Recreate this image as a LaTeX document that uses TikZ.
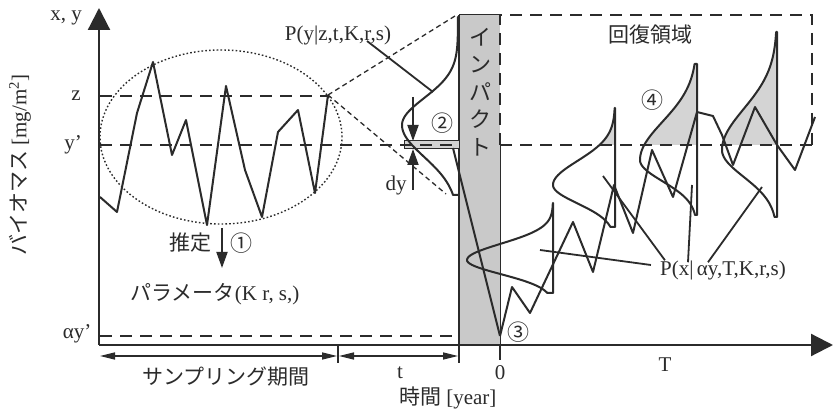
\documentclass[tikz,border=0pt]{standalone}
\usepackage{fontspec}
\setmainfont{Liberation Serif}
\newfontfamily\jpfont{Noto Sans CJK JP}
\usetikzlibrary{arrows.meta,positioning}
\definecolor{inkgray}{HTML}{2B2B2B}
\definecolor{barfill}{HTML}{C9C9C9}
\definecolor{tailfill}{HTML}{D4D4D4}
\tikzset{
  curveline/.style={draw=inkgray,line width=2pt,line join=round},
  levelline/.style={draw=inkgray,line width=1.8pt,dash pattern=on 12pt off 8pt},
  zoomline/.style={draw=inkgray,line width=1.3pt,dash pattern=on 5pt off 3.5pt},
  rangeline/.style={draw=inkgray,line width=1.4pt,dash pattern=on 1.6pt off 2.2pt},
  axisline/.style={draw=inkgray,line width=2.2pt,-{Triangle[length=22pt,width=22pt]}},
  spanarrow/.style={draw=inkgray,line width=1.4pt,
    {Triangle[length=15pt,width=7pt]}-{Triangle[length=15pt,width=7pt]}},
  markarrow/.style={draw=inkgray,line width=1.8pt,-{Triangle[length=16pt,width=11pt]}},
  leaderline/.style={draw=inkgray,line width=1.8pt},
  latinlabel/.style={text=inkgray,font=\fontsize{21}{25}\selectfont,inner sep=0pt},
  jplabel/.style={text=inkgray,font=\jpfont\fontsize{21}{25}\selectfont,inner sep=0pt},
  circlabel/.style={text=inkgray,font=\jpfont\fontsize{22}{22}\selectfont,inner sep=0pt}
}
% one-sided bell: base x, top y, peak y, bottom y, width, upper sigma, lower sigma
\newcommand{\bellpath}[7]{(#1,#2) -- plot[domain=#2:#3,samples=40,variable=\t]
  ({#1-#5*exp(0-((\t-#3)/#6)^2)},\t) -- plot[domain=#3:#4,samples=40,variable=\t]
  ({#1-#5*exp(0-((\t-#3)/#7)^2)},\t) -- (#1,#4)}

\begin{document}
\begin{tikzpicture}[x=1pt,y=-1pt]
  \useasboundingbox (0,0) rectangle (833,411);
  \fill[white] (0,0) rectangle (833,411);

  % impact bar
  \fill[barfill] (459,15) rectangle (500,345);
  \draw[inkgray,line width=1pt] (459,15) -- (500,15);
  \draw[inkgray,line width=1pt] (500,145) -- (500,345);
  \draw[inkgray,line width=2pt] (459,15) -- (459,345);

  % tails above y'
  \begin{scope}
    \clip (0,0) rectangle (833,145);
    \fill[tailfill] \bellpath{615}{108}{185}{227}{62}{34}{26} -- cycle;
    \fill[tailfill] \bellpath{697}{64}{160}{215}{57}{54}{30} -- cycle;
    \fill[tailfill] \bellpath{777}{32}{150}{217}{55}{58}{38} -- cycle;
  \end{scope}

  % dy band
  \filldraw[fill=tailfill,draw=inkgray,line width=1pt] (404,141) rectangle (459,149);

  % levels and ranges
  \draw[levelline] (100,96) -- (328,96);
  \draw[levelline] (100,145) -- (459,145);
  \draw[levelline] (500,145) -- (812,145);
  \draw[levelline] (100,336) -- (459,336);
  \draw[levelline] (500,145) -- (500,15) -- (812,15) -- (812,145);
  \draw[rangeline] (221,137) ellipse [x radius=121pt,y radius=87pt];
  \coordinate (zpt) at (328,95);
  \draw[zoomline] (zpt) -- (455,16);
  \draw[zoomline] (zpt) -- (446,194);

  % axes
  \coordinate (O) at (99,345);
  \draw[axisline] (O) -- (99,8);
  \draw[axisline] (O) -- (833,345);
  \draw[inkgray,line width=1.4pt] (338,345) -- (338,363);
  \draw[inkgray,line width=1.4pt] (459,345) -- (459,363);
  \draw[inkgray,line width=1.4pt] (500,345) -- (500,360);
  \draw[spanarrow] (100,356) -- (337,356);
  \draw[spanarrow] (339,356) -- (458,356);

  % sampled series
  \draw[curveline] (100,197) -- (117,212) -- (137,113) -- (153,62) -- (172,155)
    -- (186,120) -- (207,225) -- (226,86) -- (245,170) -- (262,217) -- (278,132)
    -- (298,110) -- (315,193) -- (zpt);

  % prediction at impact
  \draw[curveline] \bellpath{458}{17}{125}{195}{56}{38}{45};
  \draw[curveline] (453,148) -- (500,336);
  \draw[markarrow] (413,97) -- (413,141);
  \draw[markarrow] (413,190) -- (413,149);

  % recovery
  \draw[curveline] (500,336) -- (512,287) -- (530,313) -- (573,222) -- (593,272)
    -- (614,185) -- (633,233) -- (652,150) -- (673,197) -- (697,112) -- (713,116)
    -- (722,135) -- (733,165) -- (755,107) -- (777,145) -- (795,170) -- (815,117);
  \draw[curveline] \bellpath{553}{203}{260}{293}{86}{23}{20} -- cycle;
  \draw[curveline] \bellpath{615}{108}{185}{227}{62}{34}{26} -- cycle;
  \draw[curveline] \bellpath{697}{64}{160}{215}{57}{54}{30} -- cycle;
  \draw[curveline] \bellpath{777}{32}{150}{217}{55}{58}{38} -- cycle;

  % labels
  \node[latinlabel] (xy) at (66,18) {x, y};
  \node[latinlabel] (zlab) at (76,96) {z};
  \node[latinlabel] (ylab) at (73,145) {y’};
  \node[latinlabel] (aylab) at (77,334) {αy’};
  \node[jplabel,rotate=90] (biomass) at (20,165)
    {バイオマス {\rmfamily [mg/m\textsuperscript{2}]}};
  \node[latinlabel] (Py) at (338,35) {P(y|z,t,K,r,s)};
  \node[latinlabel] (Px) at (723,270) {P(x|\,αy,T,K,r,s)};
  \node[latinlabel] (dy) at (396,185) {dy};
  \node[jplabel] (suitei) at (190,243) {推定};
  \node[circlabel] (c1) at (241,243) {①};
  \node[circlabel] (c2) at (442,123) {②};
  \node[circlabel] (c3) at (518,332) {③};
  \node[circlabel] (c4) at (652,100) {④};
  \node[jplabel] (param) at (215,294) {パラメータ{\rmfamily (K r, s,)}};
  \node[jplabel] (kaifuku) at (650,35) {回復領域};
  \node[jplabel,align=center,font=\jpfont\fontsize{22}{27.5}\selectfont]
    (impact) at (480,92) {イ\\ン\\パ\\ク\\ト};
  \node[jplabel] (sampling) at (226,377) {サンプリング期間};
  \node[latinlabel] (tlab) at (400,373) {t};
  \node[latinlabel] (zero) at (500,373) {0};
  \node[latinlabel] (Tlab) at (665,365) {T};
  \node[jplabel] (jikan) at (448,398) {時間 {\rmfamily [year]}};

  % leaders
  \draw[markarrow] (222,228) -- (222,268);
  \draw[leaderline] (367,41) -- (433,92);
  \coordinate (d0) at (540,250);
  \coordinate (d1) at (603,176);
  \coordinate (d2) at (692,185);
  \coordinate (d3) at (762,187);
  \draw[leaderline] ([xshift=-9pt,yshift=5pt]Px.west) -- (d0);
  \draw[leaderline] ([xshift=5pt]Px.north west) -- (d1);
  \draw[leaderline] ([xshift=-35pt,yshift=-2pt]Px.north) -- (d2);
  \draw[leaderline] ([xshift=-15pt,yshift=-2pt]Px.north) -- (d3);
\end{tikzpicture}
\end{document}
